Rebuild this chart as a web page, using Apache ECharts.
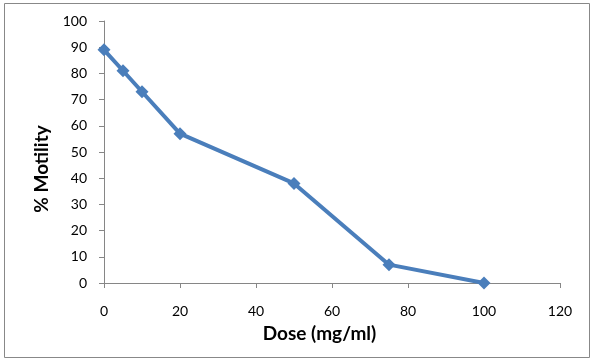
<!DOCTYPE html>
<html>
<head>
<meta charset="utf-8">
<script src="https://cdn.jsdelivr.net/npm/echarts@6/dist/echarts.min.js"></script>
<style>
html,body{margin:0;padding:0;background:#fff;}
#c{width:596px;height:363px;}
</style>
</head>
<body>
<div id="c"></div>
<script>
const doses = [0, 5, 10, 20, 50, 75, 100];
const motility = [89, 81, 73, 57, 38, 7, 0];
const xTitle = 'Dose (mg/ml)';
const yTitle = '% Motility';

const chart = echarts.init(document.getElementById('c'));
const font = 'Lato, "Open Sans", sans-serif';
chart.setOption({
  animation: false,
  backgroundColor: '#fff',
  graphic: [{
    type: 'rect',
    shape: {x: 4.5, y: 3.5, width: 585, height: 354},
    style: {fill: 'none', stroke: '#888', lineWidth: 1},
    silent: true
  }],
  grid: {left: 104, right: 36, top: 21, bottom: 80, containLabel: false},
  xAxis: {
    type: 'value', min: 0, max: 120, interval: 20,
    name: xTitle, nameLocation: 'middle', nameGap: 41,
    nameTextStyle: {fontFamily: font, fontWeight: 'bold', fontSize: 19, color: '#000', padding: [0, 25, 0, 0]},
    axisLine: {show: true, lineStyle: {color: '#868686', width: 1}},
    axisTick: {show: true, inside: false, length: 5, lineStyle: {color: '#868686'}},
    axisLabel: {fontFamily: font, fontSize: 14, color: '#000', margin: 21},
    splitLine: {show: false}
  },
  yAxis: {
    type: 'value', min: 0, max: 100, interval: 10,
    name: yTitle, nameLocation: 'middle', nameGap: 51, nameRotate: 90,
    nameTextStyle: {fontFamily: font, fontWeight: 'bold', fontSize: 19, color: '#000', padding: [0, 34, 0, 0]},
    axisLine: {show: true, lineStyle: {color: '#868686', width: 1}},
    axisTick: {show: true, inside: false, length: 5, lineStyle: {color: '#868686'}},
    axisLabel: {fontFamily: font, fontSize: 14, color: '#000', margin: 17},
    splitLine: {show: false}
  },
  series: [{
    type: 'line',
    data: doses.map((d, i) => [d, motility[i]]),
    lineStyle: {color: '#4A7EBB', width: 4},
    itemStyle: {color: '#4A7EBB'},
    symbol: 'diamond',
    symbolSize: 13,
    showSymbol: true
  }]
});
</script>
</body>
</html>
